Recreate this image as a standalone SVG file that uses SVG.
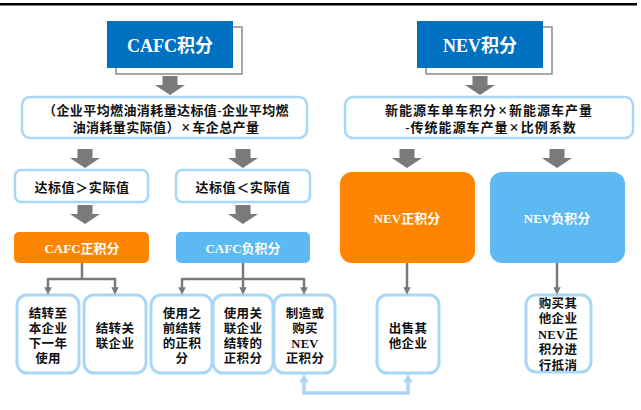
<svg xmlns="http://www.w3.org/2000/svg" xmlns:xlink="http://www.w3.org/1999/xlink" width="641" height="410" viewBox="0 0 641 410">
<style>
.t{font-family:"Liberation Serif","Noto Sans CJK SC",serif;font-weight:bold;text-anchor:middle;dominant-baseline:central}
.c{font-family:"Noto Sans CJK SC","Liberation Serif",sans-serif}
.m{font-family:"Liberation Serif","Noto Sans CJK SC",serif;font-weight:bold;text-anchor:middle;fill:#111;font-size:12.5px;letter-spacing:0.3px}
.x{font-size:16px}
.b{fill:#111;font-size:13px}
.w{fill:#fff}
.box{fill:#fff;stroke:#a9d7f5;stroke-width:2.5}
.sbox{fill:#fff;stroke:#a9d7f5;stroke-width:3}
.title{fill:#0070c0}
.shadow{fill:#fff;stroke:#8c8c8c;stroke-width:1.5}
.org{fill:#ff8500}
.lb{fill:#5db9f2}
.gl{fill:none;stroke:#7a7a7a;stroke-width:2.5}
.bl{fill:none;stroke:#a9d7f5;stroke-width:3.5}
</style>
<defs>
<polygon id="ba" points="-7.5,0 7.5,0 7.5,9 15,9 0,19 -15,9 -7.5,9" fill="#7a7a7a"/>
<marker id="ga" viewBox="0 0 10 10" refX="5" refY="5" markerWidth="3" markerHeight="3" orient="auto"><path d="M0,0 L10,5 L0,10 z" fill="#7a7a7a"/></marker>
<marker id="la" viewBox="0 0 10 10" refX="5" refY="5" markerWidth="2.6" markerHeight="2.6" orient="auto"><path d="M0,0 L10,5 L0,10 z" fill="#a9d7f5"/></marker>
</defs>
<rect x="0" y="3" width="637" height="2.5" fill="#000"/>

<g id="cafc-title">
<rect class="shadow" x="116" y="27" width="126" height="47"/>
<rect class="title" x="107" y="21" width="126" height="47"/>
<text class="t w" x="170" y="46" font-size="18">CAFC积分</text>
</g>
<g id="nev-title">
<rect class="shadow" x="426" y="27" width="126" height="47"/>
<rect class="title" x="417" y="21" width="126" height="47"/>
<text class="t w" x="480" y="46" font-size="18">NEV积分</text>
</g>

<g id="cafc-formula">
<rect class="box" x="22" y="97" width="285" height="41" rx="8"/>
<text class="t b" x="166" y="110" letter-spacing="0.4">（企业平均燃油消耗量达标值-企业平均燃</text>
<text class="t b" x="166" y="127" letter-spacing="0.4">油消耗量实际值）<tspan class="x" dx="1.5">×</tspan><tspan dx="1.5">车企总产量</tspan></text>
</g>
<g id="nev-formula">
<rect class="box" x="345" y="97" width="288" height="41" rx="8"/>
<text class="t b" x="489" y="110" letter-spacing="1">新能源车单车积分<tspan class="x" dx="1">×</tspan><tspan dx="1">新能源车产量</tspan></text>
<text class="t b" x="491" y="127" letter-spacing="1">-传统能源车产量<tspan class="x" dx="1">×</tspan><tspan dx="1">比例系数</tspan></text>
</g>

<g id="gt">
<rect class="box" x="15" y="170" width="133" height="32" rx="6"/>
<text class="t c b" x="82" y="186" letter-spacing="0.6">达标值＞实际值</text>
</g>
<g id="lt">
<rect class="box" x="176" y="170" width="134" height="32" rx="6"/>
<text class="t c b" x="243" y="186" letter-spacing="0.6">达标值＜实际值</text>
</g>

<g id="cafc-pos">
<rect class="org" x="14" y="232" width="135" height="31" rx="5"/>
<text class="t w" x="82" y="248" font-size="13">CAFC正积分</text>
</g>
<g id="cafc-neg">
<rect class="lb" x="176" y="232" width="134" height="31" rx="5"/>
<text class="t w" x="243" y="248" font-size="13">CAFC负积分</text>
</g>
<g id="nev-pos">
<rect class="org" x="340" y="172" width="135" height="91" rx="12"/>
<text class="t w" x="407" y="218" font-size="13">NEV正积分</text>
</g>
<g id="nev-neg">
<rect class="lb" x="490" y="172" width="135" height="91" rx="12"/>
<text class="t w" x="557" y="218" font-size="13">NEV负积分</text>
</g>

<g id="n1">
<rect class="sbox" x="17" y="295" width="62" height="78" rx="10"/>
<text class="m" x="48" y="317.5">结转至</text>
<text class="m" x="48" y="332.5">本企业</text>
<text class="m" x="48" y="347.5">下一年</text>
<text class="m" x="48" y="362.5">使用</text>
</g>
<g id="n2">
<rect class="sbox" x="84" y="295" width="62" height="78" rx="10"/>
<text class="m" x="115" y="332.5">结转关</text>
<text class="m" x="115" y="347.5">联企业</text>
</g>
<g id="n3">
<rect class="sbox" x="151" y="295" width="61" height="78" rx="10"/>
<text class="m" x="182" y="317.5">使用之</text>
<text class="m" x="182" y="332.5">前结转</text>
<text class="m" x="182" y="347.5">的正积</text>
<text class="m" x="182" y="362.5">分</text>
</g>
<g id="n4">
<rect class="sbox" x="213" y="295" width="60" height="78" rx="10"/>
<text class="m" x="243" y="317.5">使用关</text>
<text class="m" x="243" y="332.5">联企业</text>
<text class="m" x="243" y="347.5">结转的</text>
<text class="m" x="243" y="362.5">正积分</text>
</g>
<g id="n5">
<rect class="sbox" x="274" y="295" width="61" height="78" rx="10"/>
<text class="m" x="305" y="317.5">制造或</text>
<text class="m" x="305" y="332.5">购买</text>
<text class="m" x="305" y="347.5">NEV</text>
<text class="m" x="305" y="362.5">正积分</text>
</g>
<g id="n6">
<rect class="sbox" x="377" y="295" width="62" height="78" rx="10"/>
<text class="m" x="408" y="332.5">出售其</text>
<text class="m" x="408" y="347.5">他企业</text>
</g>
<g id="n7">
<rect class="sbox" x="526" y="295" width="65" height="77" rx="10"/>
<text class="m" x="558" y="307.5">购买其</text>
<text class="m" x="558" y="323">他企业</text>
<text class="m" x="558" y="338.5">NEV正</text>
<text class="m" x="558" y="354">积分进</text>
<text class="m" x="558" y="369.5">行抵消</text>
</g>

<g id="connectors">
<use xlink:href="#ba" x="170" y="76"/>
<use xlink:href="#ba" x="480" y="76"/>
<use xlink:href="#ba" x="85" y="149"/>
<use xlink:href="#ba" x="243" y="149"/>
<use xlink:href="#ba" x="85" y="205"/>
<use xlink:href="#ba" x="243" y="205"/>
<use xlink:href="#ba" x="407" y="149"/>
<use xlink:href="#ba" x="557" y="149"/>
<path class="gl" d="M82,263 V279"/>
<path class="gl" d="M48,279 H116"/>
<path class="gl" d="M48,278 V291" marker-end="url(#ga)"/>
<path class="gl" d="M115,278 V291" marker-end="url(#ga)"/>
<path class="gl" d="M243,263 V279"/>
<path class="gl" d="M182,279 H304"/>
<path class="gl" d="M182,278 V291" marker-end="url(#ga)"/>
<path class="gl" d="M243,278 V291" marker-end="url(#ga)"/>
<path class="gl" d="M304,278 V291" marker-end="url(#ga)"/>
<path class="gl" d="M407,263 V291" marker-end="url(#ga)"/>
<path class="gl" d="M557,263 V291" marker-end="url(#ga)"/>
<path class="bl" d="M304,379 V393 H408 V379"/>
<path class="bl" d="M304,380 V378" marker-end="url(#la)"/>
<path class="bl" d="M408,380 V378" marker-end="url(#la)"/>
</g>
</svg>
